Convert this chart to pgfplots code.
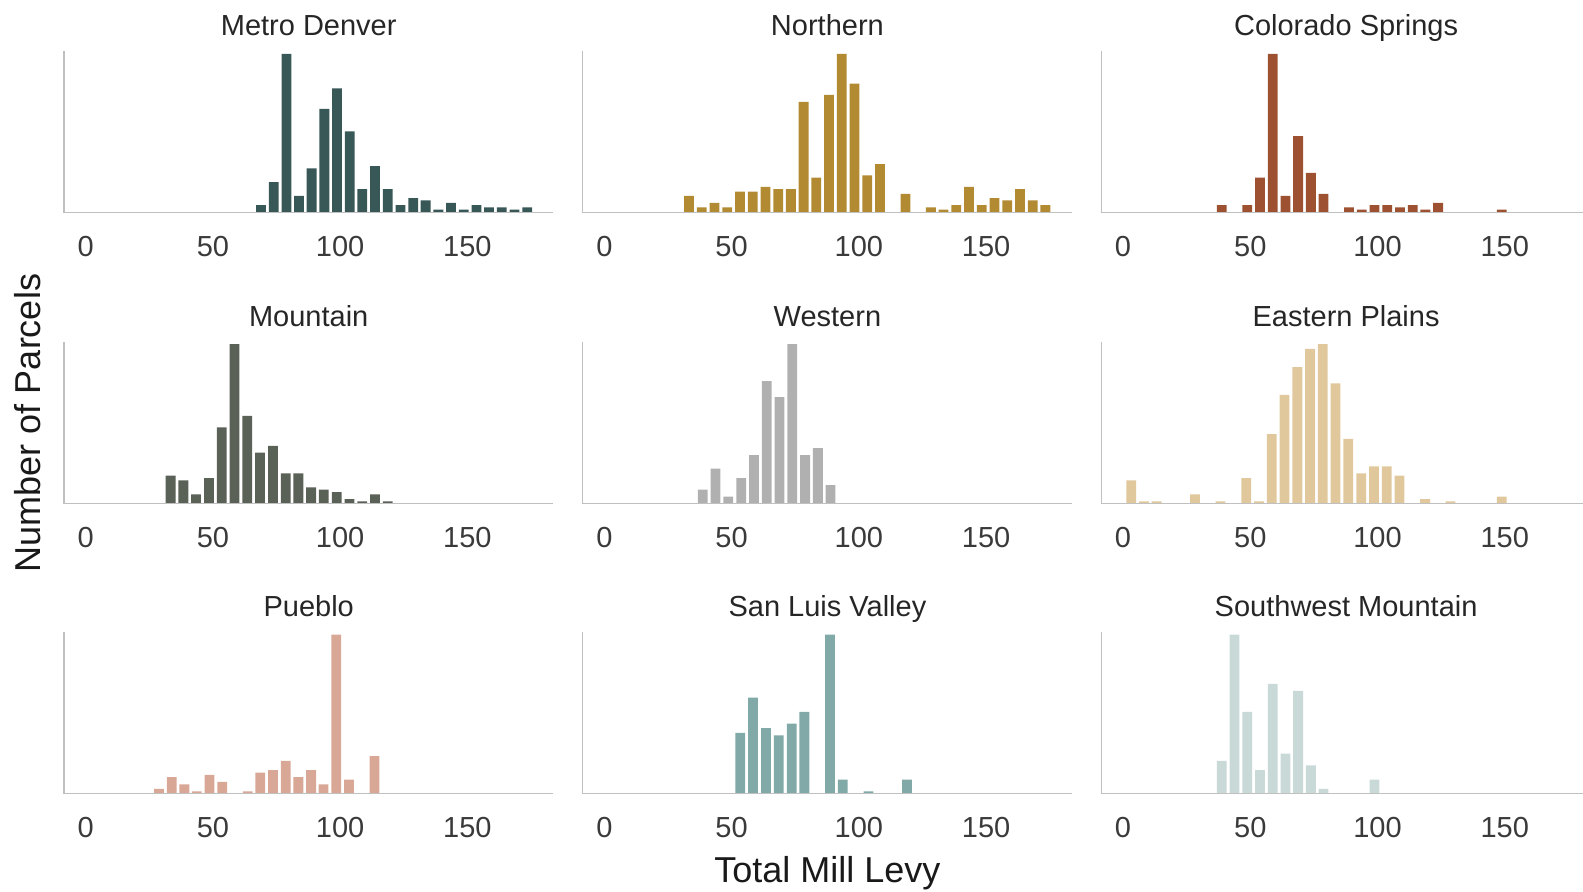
\documentclass[border=0pt]{standalone}
\usepackage{pgfplots}
\pgfplotsset{compat=1.18}
\usepackage{fontspec}
\setmainfont{Liberation Sans}
\definecolor{axisgray}{HTML}{C0C0C0}
\definecolor{tickcol}{HTML}{3A3A3A}
\definecolor{titlecol}{HTML}{262626}
\definecolor{cA}{HTML}{375856}
\definecolor{cB}{HTML}{B28A32}
\definecolor{cC}{HTML}{9D5131}
\definecolor{cD}{HTML}{5A6156}
\definecolor{cE}{HTML}{B0B0B0}
\definecolor{cF}{HTML}{E0C89C}
\definecolor{cG}{HTML}{D9A795}
\definecolor{cH}{HTML}{80A9A7}
\definecolor{cI}{HTML}{C8D9D8}
\newcommand\smallfont{\fontsize{14.5}{17}\selectfont}
\newcommand\bigfont{\fontsize{18}{22}\selectfont}
\pgfplotsset{
  panel/.style={
    scale only axis, width=244.7pt, height=80.75pt,
    xmin=-8.5, xmax=183.8, ymin=0,
    axis lines*=left,
    axis line style={draw=axisgray, line width=0.75pt},
    xtick={0,50,100,150}, ytick=\empty,
    major tick length=0pt,
    /pgf/number format/assume math mode=true,
    ticklabel style={font=\smallfont, text=tickcol},
    xticklabel style={anchor=center, yshift=-17pt},
    every axis title shift=0pt,
    title style={font=\smallfont, text=titlecol, at={(0.5,1)}, anchor=base, yshift=8pt},
    axis on top,
    anchor=south west,
  },
  bars/.style={ybar, bar width=3.85, bar shift=0pt, fill=#1, draw=none},
}
\begin{document}
\begin{tikzpicture}
\path[use as bounding box] (0,0) rectangle (791.5pt,446pt);
% Row 1
\begin{axis}[panel, at={(32pt,339.65pt)}, title={Metro Denver}, ymax=488]
\addplot[bars=cA] coordinates {(68.9,23) (73.9,92) (78.9,480) (83.8,51) (88.8,134) (93.8,314) (98.8,376) (103.8,246) (108.7,71) (113.7,141) (118.7,71) (123.7,23) (128.7,44) (133.6,37) (138.6,9) (143.6,30) (148.6,9) (153.6,23) (158.5,16) (163.5,16) (168.5,9) (173.5,16)};
\end{axis}
\begin{axis}[panel, at={(291.35pt,339.65pt)}, title={Northern}, ymax=488]
\addplot[bars=cB] coordinates {(33.3,51) (38.3,16) (43.3,30) (48.3,16) (53.3,64) (58.3,64) (63.3,78) (68.3,71) (73.3,71) (78.3,335) (83.3,106) (88.3,356) (93.3,480) (98.3,390) (103.3,113) (108.3,147) (118.3,57) (128.3,16) (133.3,9) (138.3,23) (143.3,78) (148.3,23) (153.3,44) (158.3,37) (163.3,71) (168.3,37) (173.3,23)};
\end{axis}
\begin{axis}[panel, at={(550.7pt,339.65pt)}, title={Colorado Springs}, ymax=488]
\addplot[bars=cC] coordinates {(38.8,23) (48.8,23) (53.8,106) (58.8,480) (63.8,51) (68.8,231) (73.8,120) (78.8,57) (88.8,16) (93.8,9) (98.8,23) (103.8,23) (108.8,16) (113.8,23) (118.8,9) (123.8,30) (148.8,9)};
\end{axis}
% Row 2
\begin{axis}[panel, at={(32pt,194.15pt)}, title={Mountain}, ymax=485]
\addplot[bars=cD] coordinates {(33.4,84) (38.4,70) (43.4,28) (48.5,77) (53.5,229) (58.5,479) (63.5,264) (68.5,153) (73.6,174) (78.6,91) (83.6,91) (88.6,49) (93.6,42) (98.7,35) (103.7,14) (108.7,7) (113.7,28) (118.7,7)};
\end{axis}
\begin{axis}[panel, at={(291.35pt,194.15pt)}, title={Western}, ymax=485]
\addplot[bars=cE] coordinates {(38.7,42) (43.7,105) (48.7,21) (53.8,77) (58.8,146) (63.8,368) (68.8,320) (73.8,479) (78.9,146) (83.9,167) (88.9,56)};
\end{axis}
\begin{axis}[panel, at={(550.7pt,194.15pt)}, title={Eastern Plains}, ymax=485]
\addplot[bars=cF] coordinates {(3.2,70) (8.2,7) (13.2,7) (28.3,28) (38.3,7) (48.4,77) (53.4,7) (58.4,209) (63.4,327) (68.5,410) (73.5,465) (78.5,479) (83.5,361) (88.5,195) (93.6,91) (98.6,112) (103.6,112) (108.6,84) (118.7,14) (128.7,7) (148.8,21)};
\end{axis}
% Row 3
\begin{axis}[panel, at={(32pt,49.15pt)}, title={Pueblo}, ymax=481]
\addplot[bars=cG] coordinates {(28.8,14) (33.8,49) (38.8,28) (43.7,7) (48.7,56) (53.7,35) (63.7,7) (68.6,63) (73.6,70) (78.6,98) (83.6,49) (88.6,70) (93.5,28) (98.5,474) (103.5,42) (113.5,112)};
\end{axis}
\begin{axis}[panel, at={(291.35pt,49.15pt)}, title={San Luis Valley}, ymax=481]
\addplot[bars=cH] coordinates {(53.4,181) (58.4,286) (63.5,195) (68.5,174) (73.6,209) (78.6,244) (88.7,474) (93.7,42) (103.8,7) (118.9,42)};
\end{axis}
\begin{axis}[panel, at={(550.7pt,49.15pt)}, title={Southwest Mountain}, ymax=481]
\addplot[bars=cI] coordinates {(38.8,98) (43.8,474) (48.8,244) (53.8,70) (58.8,327) (63.8,119) (68.8,306) (73.8,84) (78.8,14) (98.8,42)};
\end{axis}
\node[font=\bigfont, text=black!90, rotate=90] at (13.65pt,234.5pt) {Number of Parcels};
\node[font=\bigfont, text=black!90] at (413.7pt,9.35pt) {Total Mill Levy};
\end{tikzpicture}
\end{document}
